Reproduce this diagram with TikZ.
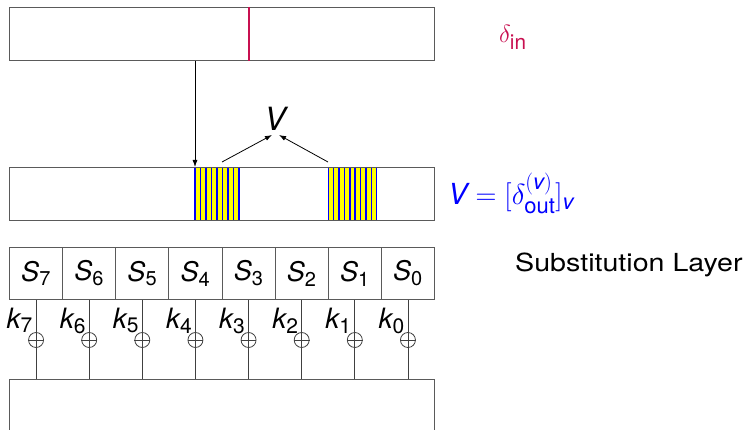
\RequirePackage{fix-cm}
\documentclass[tikz,border=0pt]{standalone}
\usepackage{amsmath}
\usepackage{fontspec}
\setmainfont{TeX Gyre Heros}
\usetikzlibrary{arrows.meta,calc}
\DeclareMathSizes{29}{29}{22}{17}
\DeclareMathSizes{28}{28}{21}{16}
\DeclareMathSizes{27}{27}{20}{15}
\DeclareMathSizes{32}{32}{24}{18}
\definecolor{dred}{RGB}{200,16,80}
\definecolor{sblue}{RGB}{0,0,255}
\definecolor{syel}{RGB}{255,255,0}
\definecolor{bgray}{RGB}{90,90,90}
\newcommand\vi[1]{\text{\itshape #1}}
\begin{document}
\begin{tikzpicture}[x=1pt,y=-1pt,
  every node/.style={font=\Huge},
  regbox/.style={draw=bgray, line width=1pt, minimum width=425pt, minimum height=53pt, inner sep=0pt, anchor=north west},
  sbox/.style={draw=bgray, line width=1pt, minimum width=53.125pt, minimum height=52pt, inner sep=0pt, anchor=north west, font=\fontsize{27}{32}\selectfont},
  wire/.style={draw=black!75, line width=0.8pt},
  arr/.style={line width=0.8pt, -{Latex[length=7pt,width=5pt]}},
  xorc/.style={circle, draw=black!75, line width=0.8pt, minimum size=15pt, inner sep=0pt},
  klab/.style={anchor=base east, inner sep=0pt, font=\fontsize{28}{34}\selectfont},
  stripe/.style={sblue, line width=1.4pt},
]
\useasboundingbox (0,0) rectangle (749,430);
\clip (0,0) rectangle (749,430);

% input difference register
\node[regbox] (din) at (9,7) {};
\draw[dred, line width=1.6pt] (din.north -| 249,0) -- (din.south -| 249,0);

% striped blocks
\foreach \i in {0,...,7} \fill[syel] ({195+5.5*\i},167) rectangle ++(5.5,53);
\foreach \i in {0,...,8} \draw[stripe] ({195+5.5*\i},167) -- ++(0,53);
\foreach \i in {0,...,8} \fill[syel] ({328.3+5.378*\i},167) rectangle ++(5.378,53);
\foreach \i in {0,...,9} \draw[stripe] ({328.3+5.378*\i},167) -- ++(0,53);

\node[regbox] (dout) at (9,167) {};

\coordinate (b1) at (195,167);
\draw[arr] (din.south -| b1) -- (b1);

% V label and arrows
\node[font=\fontsize{32}{38}\selectfont, inner sep=0pt, anchor=base] (V) at (275,131) {$\vi{V}$};
\coordinate (a1) at (222,162);
\coordinate (a2) at (328,162);
\draw[arr] (a1) -- ([xshift=-3pt,yshift=-4pt]V.base);
\draw[arr] (a2) -- ([xshift=4pt,yshift=-4pt]V.base);

% right-hand labels
\node[dred, anchor=base west, inner sep=0pt] (lin) at (499,43) {$\delta_{\text{in}}$};
\node[sblue, anchor=base west, inner sep=0pt, font=\fontsize{29}{35}\selectfont] (lout) at (448,205) {$\vi{V} = [\delta^{(\vi{v})}_{\text{out}}]_{\vi{v}}$};
\node[anchor=base west, inner sep=0pt] (lsub) at (515,272) {\scalebox{1.15}[1]{Substitution Layer}};

% S-boxes
\foreach \i in {0,...,7} {
  \pgfmathtruncatemacro\kk{7-\i}
  \node[sbox] (s\kk) at ({9+53.125*\i},247) {$\vi{S}_{\text{\kk}}$};
}

% output register
\node[regbox, minimum height=60pt] (bot) at (9,379) {};

% key additions
\foreach \k in {0,...,7} {
  \draw[wire] (s\k.south) -- (s\k.south |- bot.north);
  \node[xorc] (x\k) at (s\k.south |- 0,340) {};
  \draw[wire] (x\k.west) -- (x\k.east);
  \node[klab, xshift=-3pt] (k\k) at (s\k.south |- 0,328) {$\vi{k}_{\text{\k}}$};
}
\end{tikzpicture}
\end{document}
